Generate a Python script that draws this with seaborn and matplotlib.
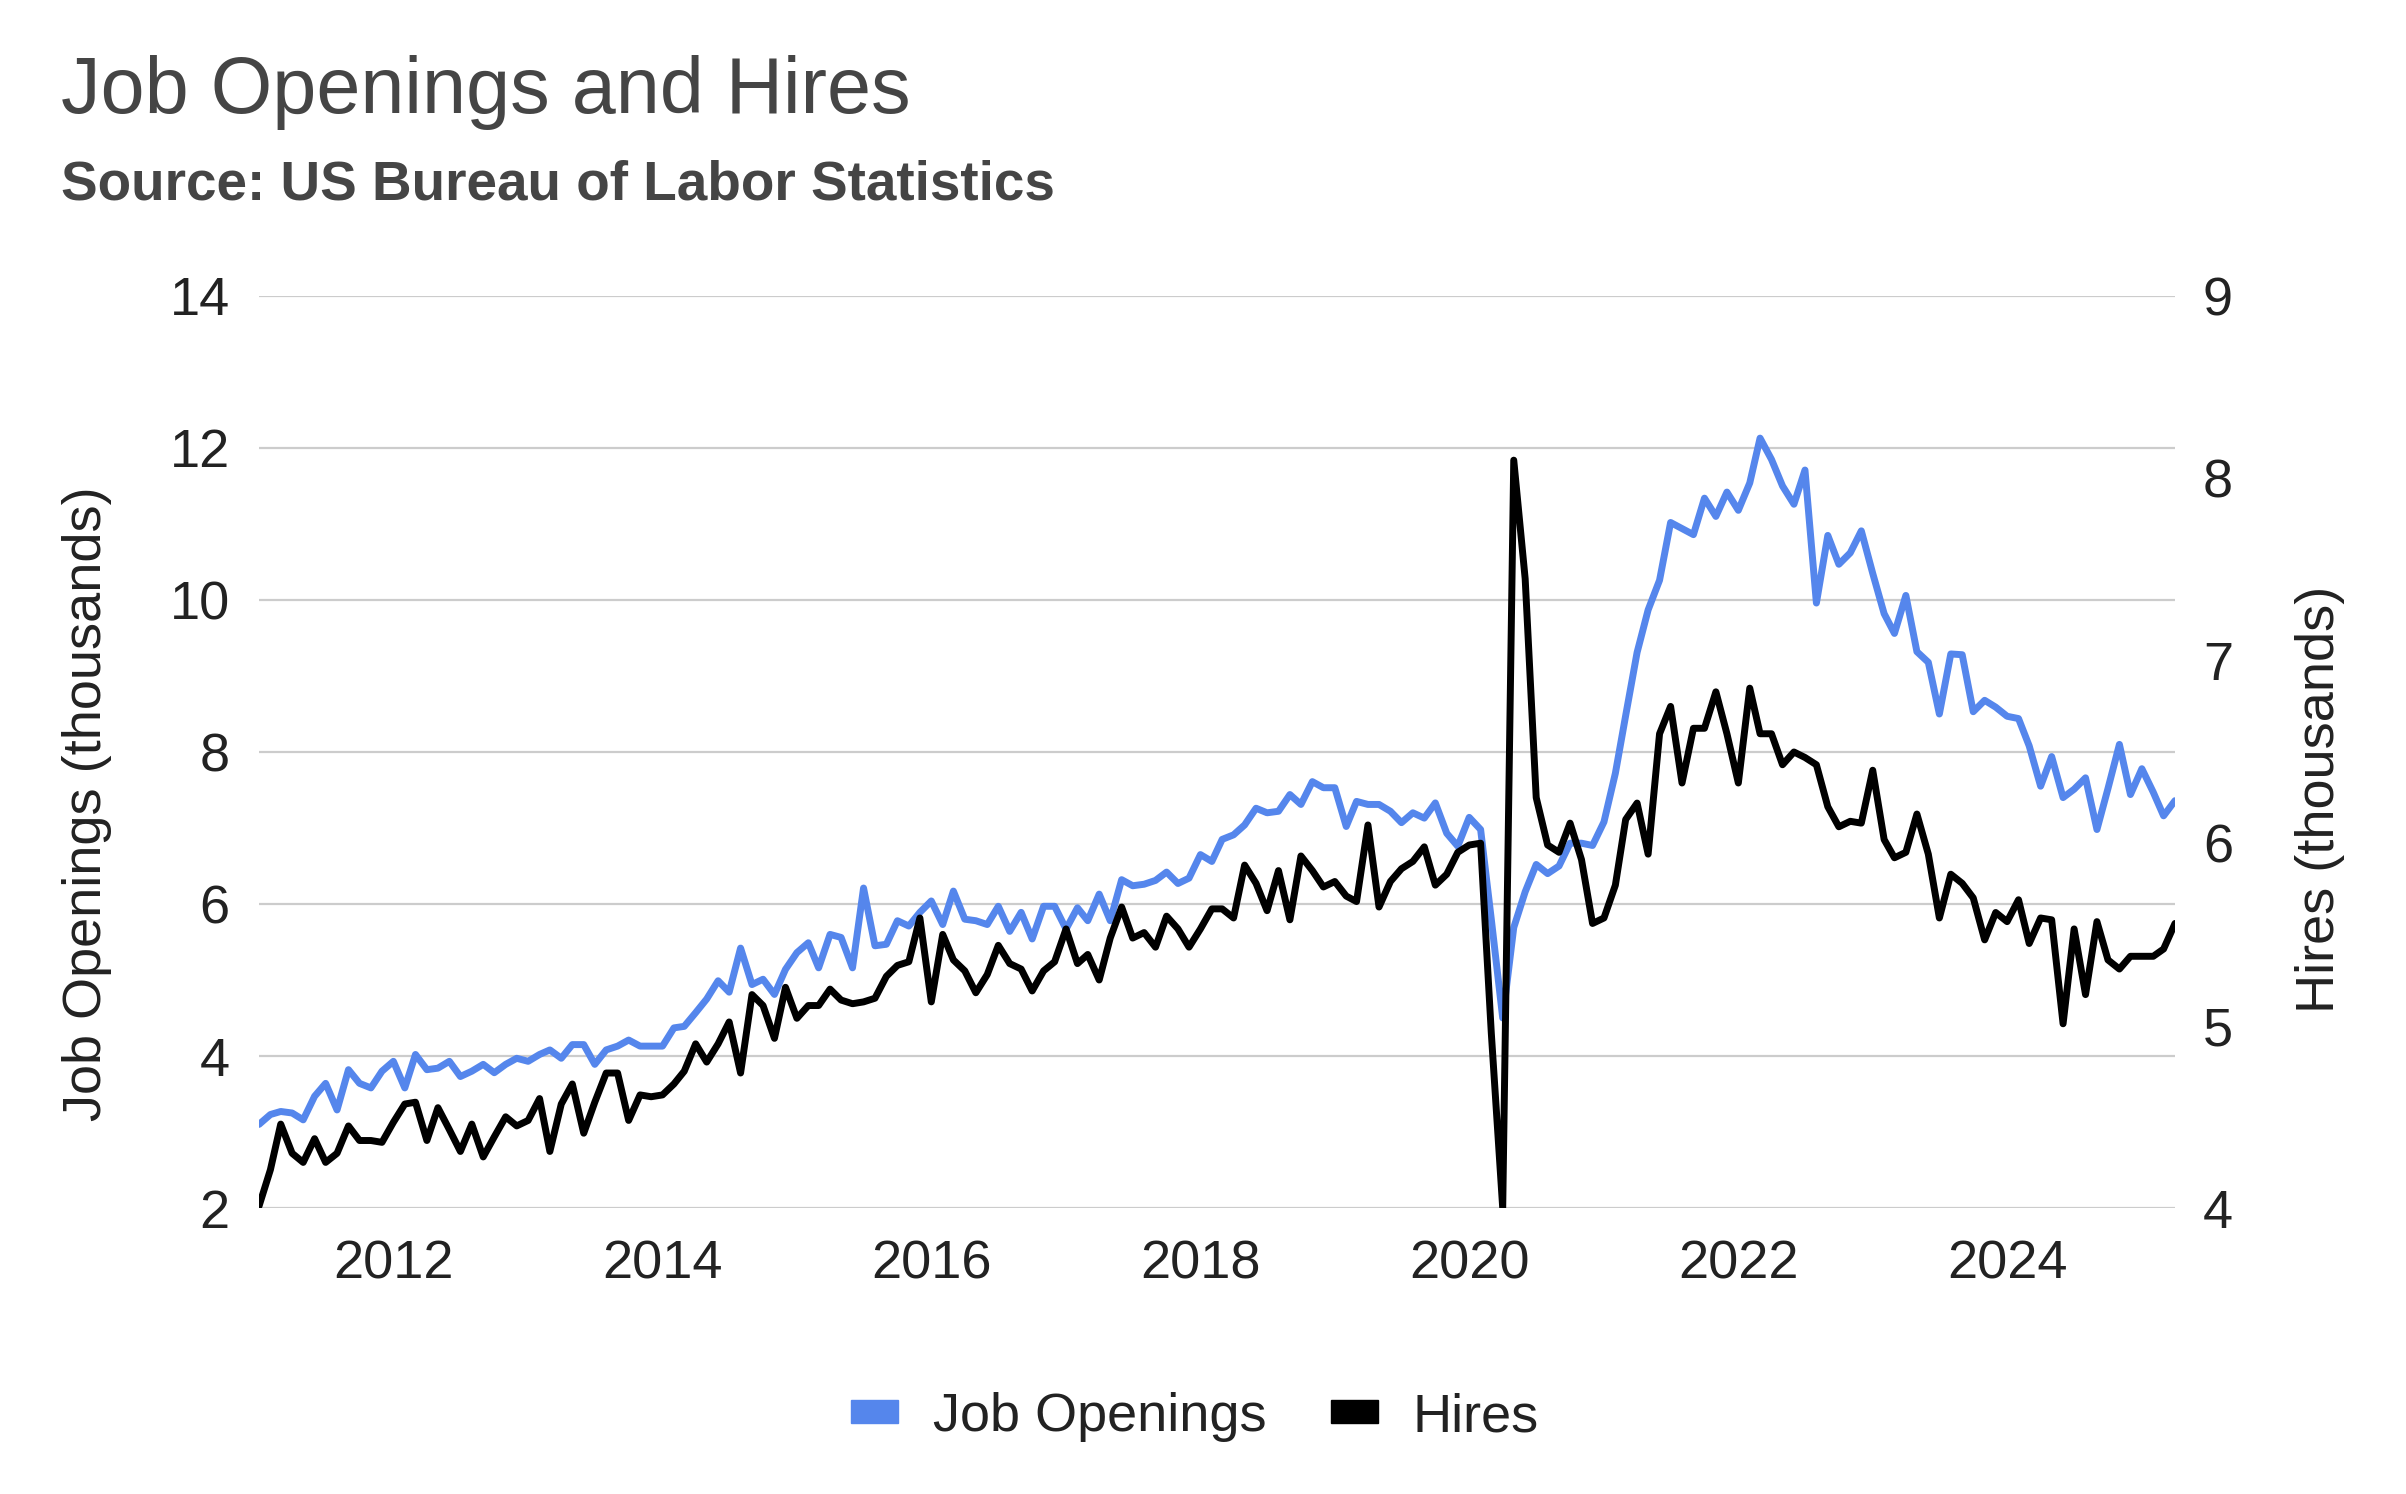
import pandas as pd
import matplotlib.pyplot as plt
import matplotlib.patches as mpatches
import seaborn as sns

# Monthly series, Jan 2011 .. Apr 2025
START_MONTH = "2011-01-01"

JOB_OPENINGS = [
    3.10, 3.23, 3.27, 3.25, 3.16, 3.47, 3.64, 3.29, 3.82, 3.64, 3.58, 3.80,   # 2011
    3.93, 3.58, 4.02, 3.82, 3.84, 3.93, 3.73, 3.80, 3.89, 3.78, 3.89, 3.97,   # 2012
    3.93, 4.02, 4.08, 3.97, 4.15, 4.15, 3.89, 4.08, 4.13, 4.21, 4.13, 4.13,   # 2013
    4.13, 4.37, 4.39, 4.57, 4.75, 4.99, 4.84, 5.42, 4.94, 5.01, 4.81, 5.14,   # 2014
    5.36, 5.49, 5.16, 5.60, 5.56, 5.16, 6.21, 5.45, 5.47, 5.78, 5.71, 5.89,   # 2015
    6.04, 5.73, 6.17, 5.80, 5.78, 5.73, 5.97, 5.64, 5.89, 5.54, 5.97, 5.97,   # 2016
    5.67, 5.95, 5.78, 6.13, 5.78, 6.32, 6.24, 6.26, 6.31, 6.42, 6.27, 6.34,   # 2017
    6.65, 6.56, 6.85, 6.91, 7.04, 7.26, 7.20, 7.22, 7.44, 7.31, 7.61, 7.53,   # 2018
    7.53, 7.02, 7.35, 7.31, 7.31, 7.22, 7.07, 7.20, 7.13, 7.33, 6.93, 6.76,   # 2019
    7.14, 6.98, 5.80, 4.50, 5.69, 6.16, 6.52, 6.40, 6.50, 6.80, 6.80, 6.77,   # 2020
    7.08, 7.72, 8.48, 9.31, 9.87, 10.26, 11.02, 10.94, 10.86, 11.34, 11.10, 11.42,  # 2021
    11.18, 11.54, 12.13, 11.85, 11.50, 11.26, 11.71, 9.96, 10.85, 10.47, 10.62, 10.91,  # 2022
    10.35, 9.82, 9.56, 10.06, 9.32, 9.18, 8.50, 9.29, 9.28, 8.53, 8.68, 8.59,  # 2023
    8.47, 8.44, 8.08, 7.55, 7.94, 7.40, 7.51, 7.66, 6.98, 7.52, 8.10, 7.44,   # 2024
    7.78, 7.47, 7.16, 7.36,                                                   # 2025
]

HIRES = [
    4.01, 4.21, 4.46, 4.30, 4.25, 4.38, 4.25, 4.30, 4.45, 4.37, 4.37, 4.36,   # 2011
    4.47, 4.57, 4.58, 4.37, 4.55, 4.43, 4.31, 4.46, 4.28, 4.39, 4.50, 4.45,   # 2012
    4.48, 4.60, 4.31, 4.57, 4.68, 4.41, 4.58, 4.74, 4.74, 4.48, 4.62, 4.61,   # 2013
    4.62, 4.68, 4.75, 4.90, 4.80, 4.90, 5.02, 4.74, 5.17, 5.11, 4.93, 5.21,   # 2014
    5.04, 5.11, 5.11, 5.20, 5.14, 5.12, 5.13, 5.15, 5.27, 5.33, 5.35, 5.59,   # 2015
    5.13, 5.50, 5.36, 5.30, 5.18, 5.28, 5.44, 5.34, 5.31, 5.19, 5.30, 5.35,   # 2016
    5.53, 5.34, 5.39, 5.25, 5.48, 5.65, 5.48, 5.51, 5.43, 5.60, 5.53, 5.43,   # 2017
    5.53, 5.64, 5.64, 5.59, 5.88, 5.78, 5.63, 5.85, 5.58, 5.93, 5.85, 5.76,   # 2018
    5.79, 5.71, 5.68, 6.10, 5.65, 5.79, 5.86, 5.90, 5.98, 5.77, 5.83, 5.95,   # 2019
    5.99, 6.00, 4.96, 4.00, 8.10, 7.45, 6.25, 5.99, 5.95, 6.11, 5.91, 5.56,   # 2020
    5.59, 5.77, 6.13, 6.22, 5.94, 6.60, 6.75, 6.33, 6.63, 6.63, 6.83, 6.60,   # 2021
    6.33, 6.85, 6.60, 6.60, 6.43, 6.50, 6.47, 6.43, 6.20, 6.09, 6.12, 6.11,   # 2022
    6.40, 6.02, 5.92, 5.95, 6.16, 5.94, 5.59, 5.83, 5.78, 5.70, 5.47, 5.62,   # 2023
    5.57, 5.69, 5.45, 5.59, 5.58, 5.01, 5.53, 5.17, 5.57, 5.36, 5.31, 5.38,   # 2024
    5.38, 5.38, 5.42, 5.56,                                                   # 2025
]

YEAR_TICKS = [2012, 2014, 2016, 2018, 2020, 2022, 2024]
LEFT_TICKS = [2, 4, 6, 8, 10, 12, 14]
RIGHT_TICKS = [4, 5, 6, 7, 8, 9]

BLUE = "#5586EC"
BLACK = "#000000"
TEXT = "#222222"
TITLE_GRAY = "#454545"

W, H = 2406, 1494

sns.set_theme(style="white")
plt.rcParams["font.family"] = ["Liberation Sans", "DejaVu Sans"]

df = pd.DataFrame({
    "month": pd.date_range(START_MONTH, periods=len(JOB_OPENINGS), freq="MS"),
    "openings": JOB_OPENINGS,
    "hires": HIRES,
})

fig = plt.figure(figsize=(W / 100, H / 100), dpi=100)
# plot area in pixels: x 259..2175, y 296..1208
ax = fig.add_axes([259 / W, 1 - 1208 / H, (2175 - 259) / W, (1208 - 296) / H])
ax2 = ax.twinx()

sns.lineplot(data=df, x="month", y="openings", ax=ax, color=BLUE, linewidth=5, legend=False)
sns.lineplot(data=df, x="month", y="hires", ax=ax2, color=BLACK, linewidth=5, legend=False)

ax.set_xlim(df["month"].iloc[0], df["month"].iloc[-1])
ax.set_ylim(2, 14)
ax2.set_ylim(4, 9)

ax.set_yticks(LEFT_TICKS)
ax.set_yticklabels([str(t) for t in LEFT_TICKS])
ax2.set_yticks(RIGHT_TICKS)
ax2.set_yticklabels([str(t) for t in RIGHT_TICKS])
ax.set_xticks([pd.Timestamp(f"{y}-01-01") for y in YEAR_TICKS])
ax.set_xticklabels([str(y) for y in YEAR_TICKS])

ax.grid(axis="y", color="#cccccc", linewidth=1.6)
ax.grid(axis="x", visible=False)
ax2.grid(False)
ax.set_axisbelow(True)

for a in (ax, ax2):
    for s in a.spines.values():
        s.set_visible(False)
    a.set_xlabel("")
    a.set_ylabel("")

ax.tick_params(axis="y", length=0, pad=21, labelsize=39, labelcolor=TEXT)
ax.tick_params(axis="x", length=0, pad=23, labelsize=39, labelcolor=TEXT)
ax2.tick_params(axis="y", length=0, pad=20, labelsize=39, labelcolor=TEXT)

# axis titles
fig.text(87 / W, 1 - 804 / H, "Job Openings (thousands)", rotation=90,
         ha="center", va="center", fontsize=39, color=TEXT)
fig.text(2320 / W, 1 - 799 / H, "Hires (thousands)", rotation=90,
         ha="center", va="center", fontsize=39, color=TEXT)

# title + subtitle
fig.text(61 / W, 1 - 113 / H, "Job Openings and Hires", ha="left", va="baseline",
         fontsize=57, color=TITLE_GRAY)
fig.text(61 / W, 1 - 200 / H, "Source: US Bureau of Labor Statistics", ha="left",
         va="baseline", fontsize=39.5, fontweight="bold", color=TITLE_GRAY)

handles = [
    mpatches.Patch(color=BLUE, label="Job Openings"),
    mpatches.Patch(color=BLACK, label="Hires"),
]
fig.legend(handles=handles, loc="center", bbox_to_anchor=(1195 / W, 1 - 1417 / H),
           ncol=2, frameon=False, fontsize=39, handlelength=0.87, handleheight=0.28,
           handletextpad=0.63, columnspacing=1.2, labelcolor=TEXT)

fig.savefig("out.png", dpi=100)
